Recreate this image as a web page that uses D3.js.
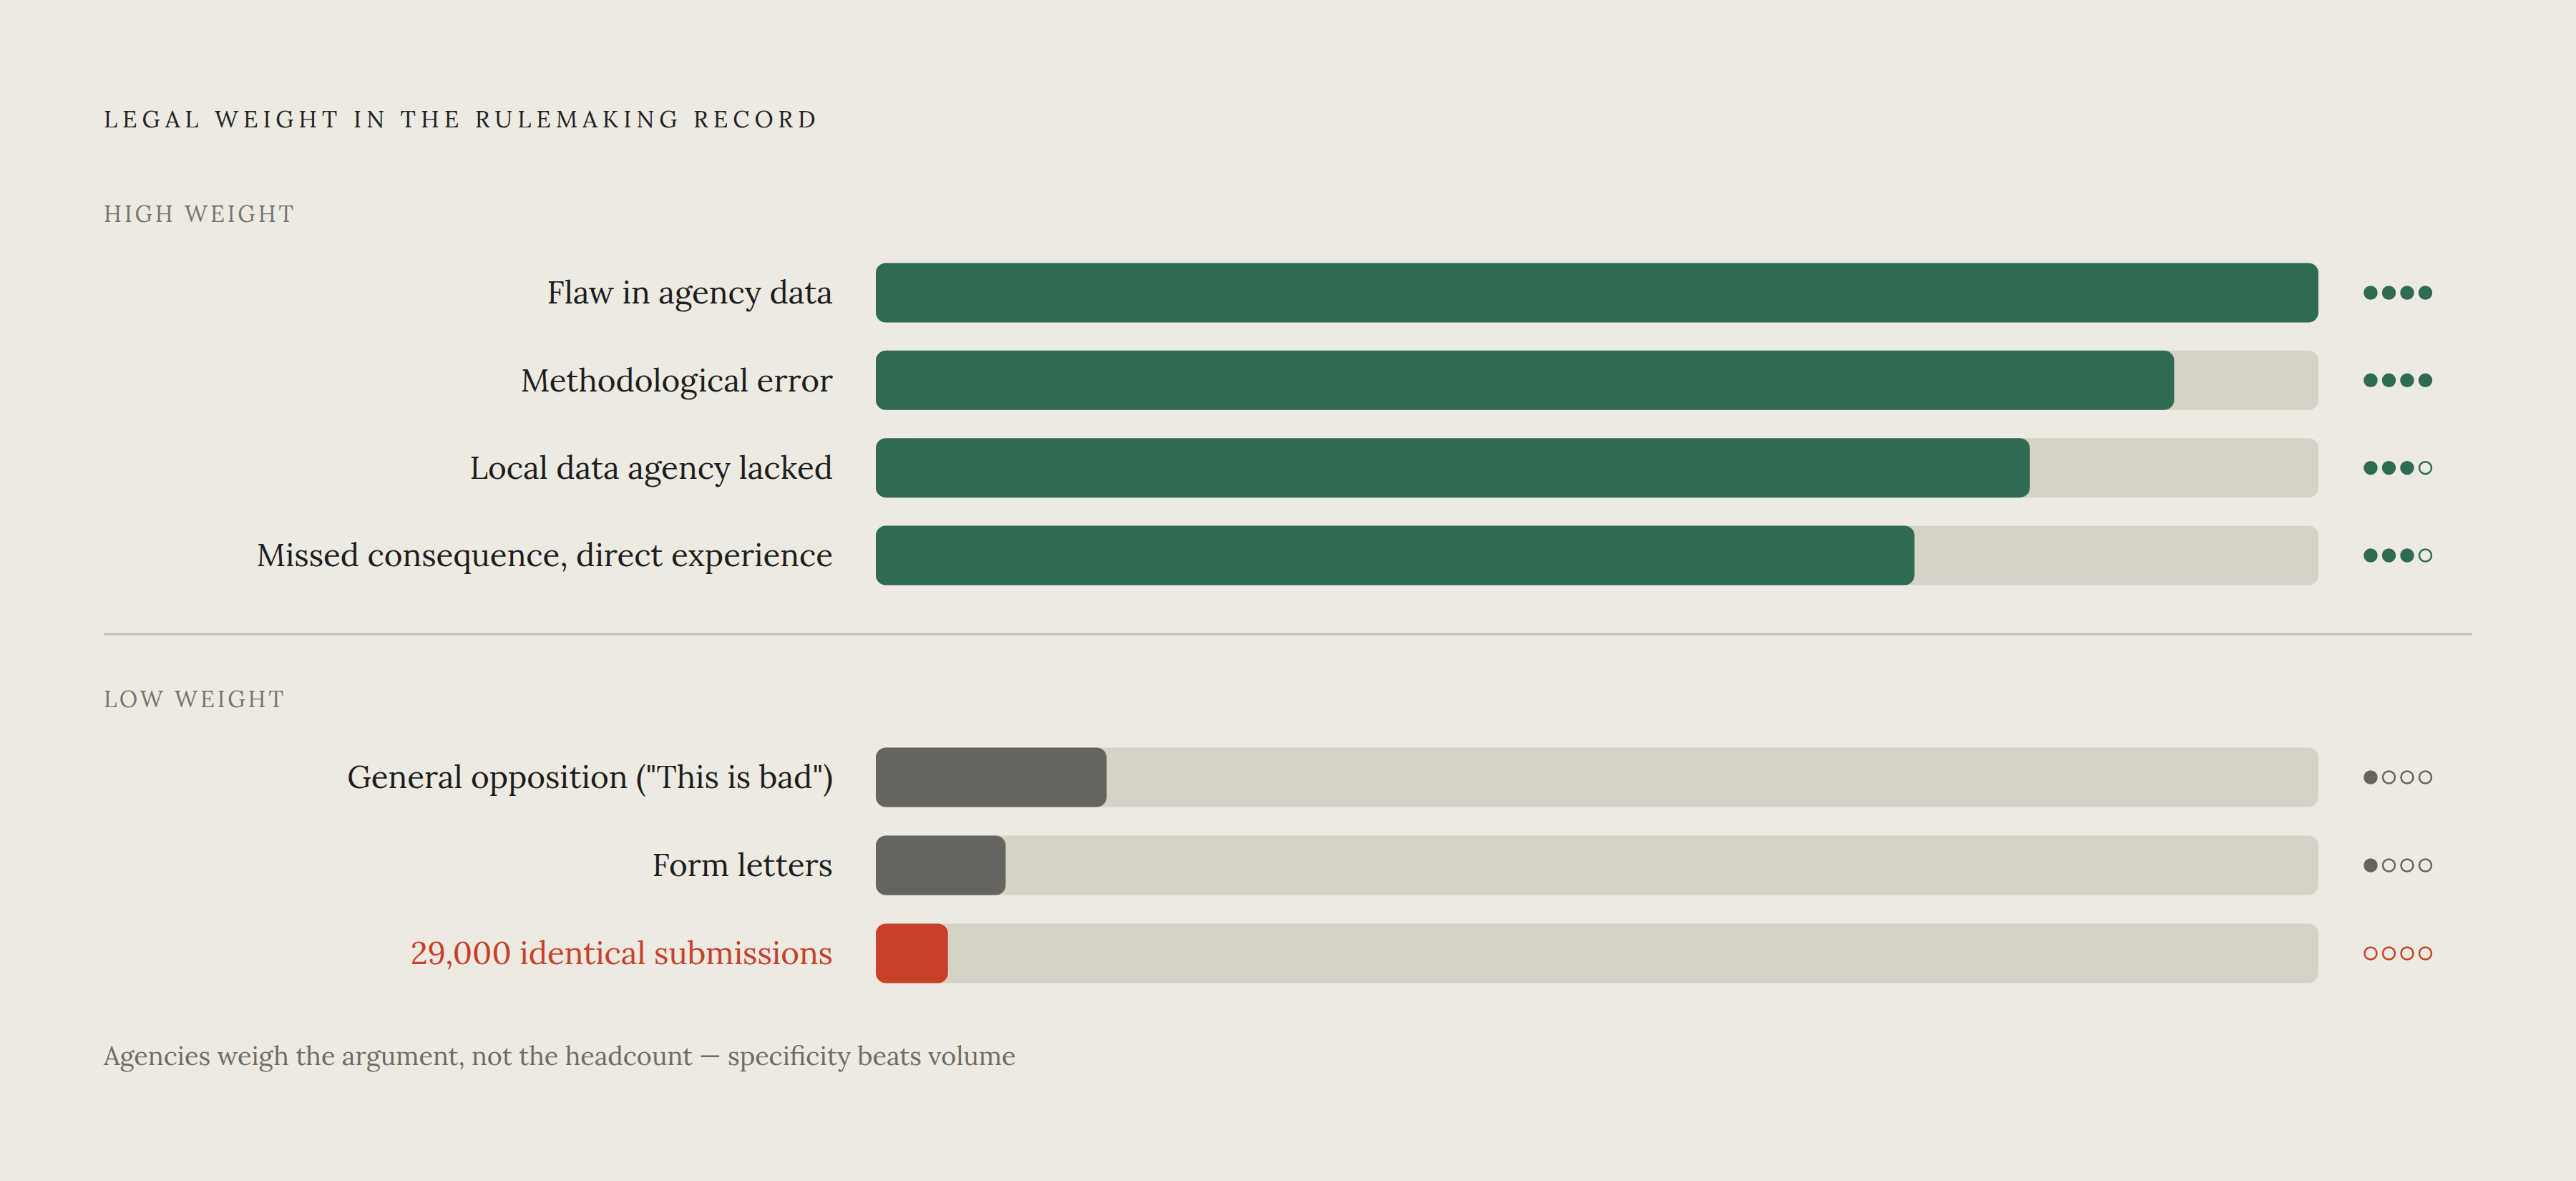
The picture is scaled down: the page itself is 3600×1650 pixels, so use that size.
<!DOCTYPE html>
<html><head><meta charset="utf-8">
<script src="https://cdn.jsdelivr.net/npm/d3@7"></script>
<style>
body{margin:0;background:#edeae2;}
text{font-family:"Lora","Liberation Serif","DejaVu Serif",serif;}
</style></head>
<body><svg id="chart" width="3600" height="1650"></svg>
<script>
// data
var highLabels = ["Flaw in agency data", "Methodological error", "Local data agency lacked", "Missed consequence, direct experience"];
var highValues = [100, 90, 80, 72];
var highDots = [4, 4, 3, 3];
var lowLabels = ["General opposition (\"This is bad\")", "Form letters", "29,000 identical submissions"];
var lowValues = [16, 9, 5];
var lowDots = [1, 1, 0];

var bg = "#edeae2", green = "#2e6b52", track = "#d6d2c6", grey = "#65645e", red = "#c9402a";

var svg = d3.select("#chart");
svg.append("rect").attr("width", 3600).attr("height", 1650).attr("fill", bg);

var x = d3.scaleLinear().domain([0, 100]).range([1224, 3240]);
var barH = 83;

svg.append("text").attr("x", 145).attr("y", 178)
    .attr("font-size", 33).attr("letter-spacing", 7).attr("fill", "#222")
    .text("LEGAL WEIGHT IN THE RULEMAKING RECORD");

function section(title, titleY, labels, values, dots, rowYs, colorFn, labelColorFn) {
    svg.append("text").attr("x", 145).attr("y", titleY)
        .attr("font-size", 32).attr("letter-spacing", 4).attr("fill", "#77756e")
        .text(title);
    var y = d3.scalePoint().domain(labels).range(rowYs);
    var g = svg.append("g");
    var rows = g.selectAll(".row").data(labels).enter().append("g")
        .attr("transform", function (d) { return "translate(0," + y(d) + ")"; });
    rows.append("rect").attr("x", x(0)).attr("y", -barH / 2)
        .attr("width", x(100) - x(0)).attr("height", barH)
        .attr("rx", 14).attr("fill", track);
    rows.append("rect").attr("x", x(0)).attr("y", -barH / 2)
        .attr("width", function (d, i) { return x(values[i]) - x(0); })
        .attr("height", barH).attr("rx", 14)
        .attr("fill", function (d, i) { return colorFn(i); });
    rows.append("text").attr("x", 1164).attr("y", 0).attr("dy", "0.35em")
        .attr("text-anchor", "end").attr("font-size", 44)
        .attr("fill", function (d, i) { return labelColorFn(i); })
        .text(function (d) { return d; });
    rows.each(function (d, i) {
        var c = colorFn(i);
        d3.select(this).selectAll("circle").data([0, 1, 2, 3]).enter().append("circle")
            .attr("cx", function (k) { return 3313 + k * 25.5; })
            .attr("cy", 0).attr("r", 8.5)
            .attr("fill", function (k) { return k < dots[i] ? c : "none"; })
            .attr("stroke", c).attr("stroke-width", 2.5);
    });
}

section("HIGH WEIGHT", 310, highLabels, highValues, highDots, [409, 776],
    function () { return green; }, function () { return "#1e1e1e"; });

svg.append("line").attr("x1", 145).attr("x2", 3455).attr("y1", 886).attr("y2", 886)
    .attr("stroke", "#c4c0b6").attr("stroke-width", 3);

section("LOW WEIGHT", 988, lowLabels, lowValues, lowDots, [1086, 1332],
    function (i) { return i === 2 ? red : grey; },
    function (i) { return i === 2 ? red : "#1e1e1e"; });

svg.append("text").attr("x", 145).attr("y", 1488)
    .attr("font-size", 36).attr("fill", "#6e6c66")
    .text("Agencies weigh the argument, not the headcount \u2014 specificity beats volume");
</script></body></html>
